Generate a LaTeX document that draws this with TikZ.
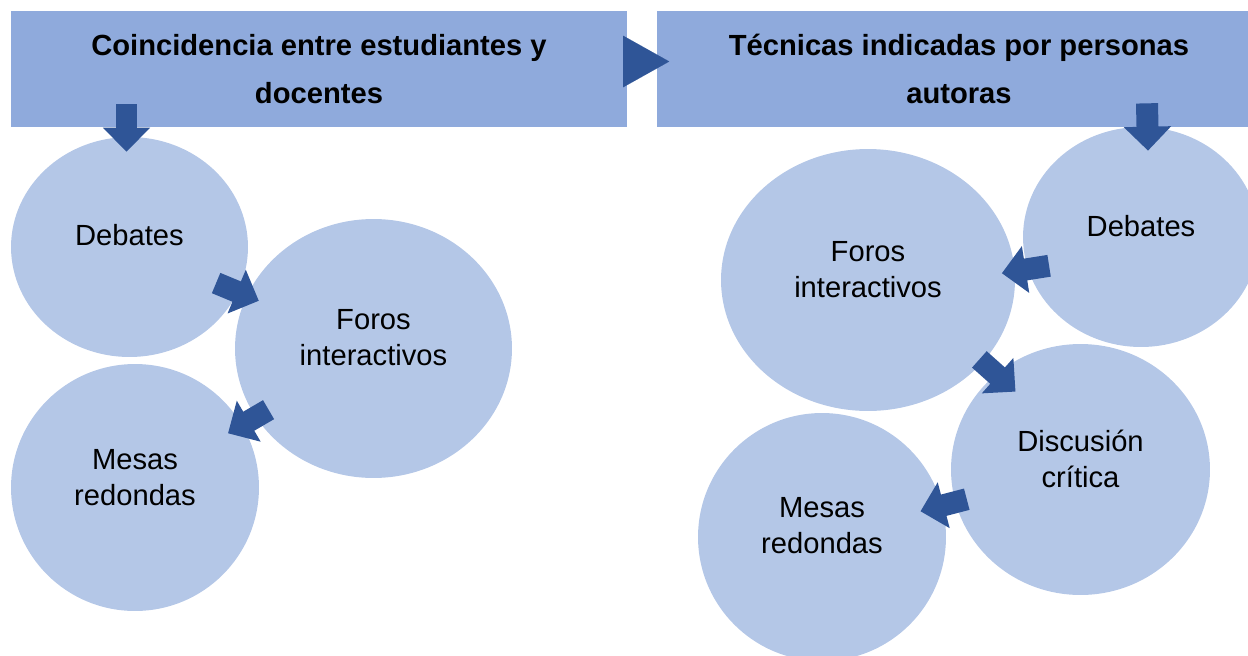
\documentclass[tikz,border=0pt]{standalone}
\usepackage{fontspec}
\setmainfont{Liberation Sans}
\usepackage{tikz}
\usepackage{xcolor}
\usetikzlibrary{shapes.geometric, arrows.meta, positioning, calc}
\definecolor{headblue}{RGB}{143, 170, 220}
\definecolor{bubbleblue}{RGB}{180, 199, 231}
\definecolor{arrowblue}{RGB}{47, 85, 151}
\tikzstyle{headnode} = [rectangle, minimum height=2.32cm, text centered, align=center, fill=headblue, font=\fontsize{16.6}{27.2}\selectfont\bfseries]
\tikzstyle{bubble} = [ellipse, inner sep=0pt, fill=bubbleblue]
\tikzstyle{bubbletext} = [align=center, font=\fontsize{16.6}{20.5}\selectfont]
\tikzstyle{blockarrow} = [line width=0.44cm, arrowblue, -{Triangle[width=0.92cm, length=0.48cm]}]
\tikzstyle{headarrow} = [line width=0.01pt, arrowblue, -{Triangle[width=1.03cm, length=0.92cm]}, shorten >=-0.25cm]

\begin{document}
\begin{tikzpicture}[x=0.02cm, y=-0.02cm]
        \useasboundingbox (0,0) rectangle (1248,656);

        % Header boxes
        \node[headnode, minimum width=12.32cm] (boxL) at (319,69) {Coincidencia entre estudiantes y\\docentes};
        \node[headnode, minimum width=12.08cm] (boxR) at (959,69) {Técnicas indicadas por personas\\autoras};

        % Left bubbles
        \node[bubble, minimum width=4.74cm, minimum height=4.4cm] (debL) at (129.5,247) {};
        \node[bubble, minimum width=5.54cm, minimum height=5.18cm] (forL) at (373.5,348.5) {};
        \node[bubble, minimum width=4.96cm, minimum height=4.94cm] (mesL) at (135,487.5) {};

        % Right bubbles
        \node[bubble, minimum width=4.72cm, minimum height=4.4cm] (debR) at (1141,237) {};
        \node[bubble, minimum width=5.88cm, minimum height=5.24cm] (forR) at (868,280) {};
        \node[bubble, minimum width=5.18cm, minimum height=5.02cm] (disR) at (1080.5,469.5) {};
        \node[bubble, minimum width=4.96cm, minimum height=4.96cm] (mesR) at (822,537) {};

        % Texts
        \node[bubbletext] (debLt) at ([yshift=0.24cm]debL) {Debates};
        \node[bubbletext] (forLt) at ([yshift=0.21cm]forL) {Foros\\interactivos};
        \node[bubbletext] (mesLt) at ([yshift=0.2cm]mesL) {Mesas\\redondas};
        \node[bubbletext] (debRt) at ([yshift=0.22cm]debR) {Debates};
        \node[bubbletext] (forRt) at ([yshift=0.2cm]forR) {Foros\\interactivos};
        \node[bubbletext] (disRt) at ([yshift=0.21cm]disR) {Discusión\\crítica};
        \node[bubbletext] (mesRt) at ([yshift=0.22cm]mesR) {Mesas\\redondas};

        % Connections
        \draw[headarrow] ([yshift=0.15cm]boxL.east) -- ([yshift=0.15cm]boxR.west);
        \draw[blockarrow] ($(debL |- boxL.south) + (-3,-23)$) -- ($(debL.north) + (-3,15)$);
        \draw[blockarrow] ($(debL)!0.355!(forL)$) -- ($(debL)!0.53!(forL)$);
        \draw[blockarrow] ($(forL)!0.44!(mesL)$) -- ($(forL)!0.61!(mesL)$);
        \draw[blockarrow] ($(debR |- boxR.south) + (6,-24)$) -- ($(debR.north) + (7,24)$);
        \draw[blockarrow] ($(debR)!0.344!(forR) + (2,14)$) -- ($(debR)!0.517!(forR) + (2,14)$);
        \draw[blockarrow] ($(forR)!0.477!(disR) + (10,-11)$) -- ($(forR)!0.647!(disR) + (10,-11)$);
        \draw[blockarrow] ($(disR)!0.44!(mesR)$) -- ($(disR)!0.619!(mesR)$);
    \end{tikzpicture}
\end{document}
